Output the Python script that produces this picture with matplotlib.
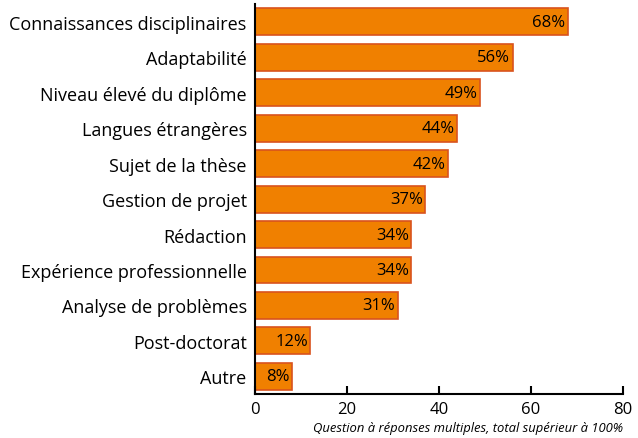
import matplotlib
matplotlib.use("Agg")
import matplotlib.pyplot as plt

# data
categories = ["Connaissances disciplinaires", "Adaptabilité", "Niveau élevé du diplôme",
              "Langues étrangères", "Sujet de la thèse", "Gestion de projet", "Rédaction",
              "Expérience professionnelle", "Analyse de problèmes", "Post-doctorat", "Autre"]
values = [68, 56, 49, 44, 42, 37, 34, 34, 31, 12, 8]
xticks = [0, 20, 40, 60, 80]
note = "Question à réponses multiples, total supérieur à 100%"

plt.rcParams['font.family'] = ['Open Sans', 'DejaVu Sans']

fig = plt.figure(figsize=(6.38, 4.39), dpi=100)
ax = fig.add_axes([0.3997, 0.1002, 0.5768, 0.888])

pos = list(range(len(categories)))
ax.barh(pos, values, height=0.76, color="#F08000", edgecolor="#D9531E", linewidth=1.2)

for y, v in zip(pos, values):
    ax.text(v - 0.5, y, f"{v}%", ha="right", va="center", fontsize=12, color="black")

ax.set_yticks(pos)
ax.set_yticklabels(categories, fontsize=13)
ax.tick_params(axis="y", length=0, pad=6)
ax.set_ylim(len(categories) - 0.5, -0.5)

ax.set_xlim(0, 80)
ax.set_xticks(xticks)
ax.tick_params(axis="x", direction="in", length=6, width=1.5, labelsize=12, pad=5)

for s in ["top", "right"]:
    ax.spines[s].set_visible(False)
ax.spines["left"].set_linewidth(1.5)
ax.spines["bottom"].set_linewidth(1.5)

fig.text(0.977, 0.025, note, ha="right", va="center", fontsize=9.4, style="italic")

fig.savefig("out.png", dpi=100)
